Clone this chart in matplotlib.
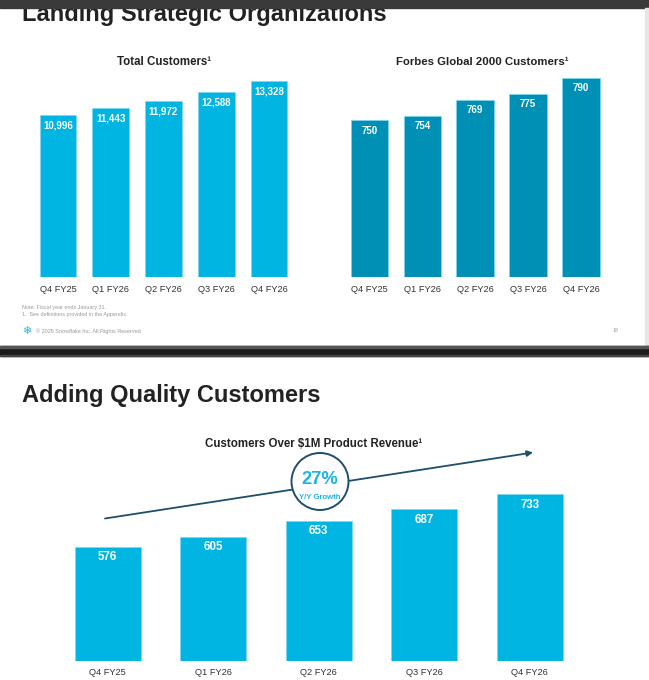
import matplotlib
matplotlib.use("Agg")
import matplotlib.pyplot as plt
from matplotlib.patches import Rectangle, Circle

plt.rcParams['font.family'] = ['Liberation Sans', 'DejaVu Sans']

# ---------------- data ----------------
quarters = ["Q4 FY25", "Q1 FY26", "Q2 FY26", "Q3 FY26", "Q4 FY26"]
total_customers = [10996, 11443, 11972, 12588, 13328]
forbes_customers = [750, 754, 769, 775, 790]
million_customers = [576, 605, 653, 687, 733]

W, H = 649, 680
fig = plt.figure(figsize=(W / 100, H / 100), dpi=100)
fig.patch.set_facecolor("white")

CYAN = "#00B5E2"
TEAL = "#0090B6"
NAVY = "#1D4E6E"
TXT = "#222222"


def px_axes(x0, x1, y_top, y_bot):
    return fig.add_axes([x0 / W, 1 - y_bot / H, (x1 - x0) / W, (y_bot - y_top) / H])


# overlay for slide decorations (pixel coordinates, y downward)
ov = fig.add_axes([0, 0, 1, 1])
ov.set_xlim(0, W)
ov.set_ylim(H, 0)
ov.axis("off")

# top slide title (partially hidden by the band)
ov.text(22, 21, "Landing Strategic Organizations", fontsize=17, fontweight="bold",
        color=TXT, va="baseline", ha="left", zorder=1)
ov.add_patch(Rectangle((0, 0), W, 8, color="#3a3a3a", zorder=5))
ov.add_patch(Rectangle((645, 8), 4, 338, color="#e6e6e6", zorder=5))

ov.text(164, 62, "Total Customers¹", fontsize=8.3, fontweight="bold", color=TXT,
        ha="center", va="center")
ov.text(482, 62, "Forbes Global 2000 Customers¹", fontsize=8.2, fontweight="bold",
        color=TXT, ha="center", va="center")

ov.text(22, 308, "Note: Fiscal year ends January 31.", fontsize=3.9, color="#9a9a9a",
        ha="left", va="center")
ov.text(22, 314.5, "1.  See definitions provided in the Appendix.", fontsize=3.9,
        color="#9a9a9a", ha="left", va="center")
ov.text(27, 331, "❄", fontsize=8, color="#29B5E8", ha="center", va="center",
        family="DejaVu Sans")
ov.text(36, 331, "© 2026 Snowflake Inc. All Rights Reserved", fontsize=3.95,
        color="#9a9a9a", ha="left", va="center")
ov.text(616, 331, "18", fontsize=3.9, color="#9a9a9a", ha="center", va="center")

# separator band between slides
ov.add_patch(Rectangle((0, 346), W, 10, color="#1c1c1c", zorder=5))
ov.add_patch(Rectangle((0, 346), W, 1.5, color="#555555", zorder=6))
ov.add_patch(Rectangle((0, 354.5), W, 1.5, color="#444444", zorder=6))

# bottom slide
ov.text(22, 402, "Adding Quality Customers", fontsize=17, fontweight="bold",
        color=TXT, va="baseline", ha="left")
ov.text(314, 444, "Customers Over $1M Product Revenue¹", fontsize=8.3,
        fontweight="bold", color=TXT, ha="center", va="center")

ov.annotate("", xy=(533, 452.5), xytext=(105, 518.5),
            arrowprops=dict(arrowstyle="-|>", color=NAVY, lw=1.3,
                            mutation_scale=8.5, shrinkA=0, shrinkB=0), zorder=2)
ov.add_patch(Circle((320, 481.5), 28.5, facecolor="white", edgecolor=NAVY,
                    lw=1.4, zorder=3))
ov.text(320, 479.5, "27%", fontsize=13.2, fontweight="bold", color="#1FB3E5",
        ha="center", va="center", zorder=4)
ov.text(320, 497.5, "Y/Y Growth", fontsize=5.6, fontweight="bold", color="#1FB3E5",
        ha="center", va="center", zorder=4)


def bar_panel(ax, values, color, y0, px_per_unit, height_px, width, fs_lab,
              lab_off_px, tick_fs, tick_pad):
    x = list(range(len(values)))
    ax.bar(x, values, width=width, color=color, edgecolor="#7fd6f0", linewidth=0.5)
    ax.set_xlim(-0.5, len(values) - 0.5)
    ax.set_ylim(y0, y0 + height_px / px_per_unit)
    for xi, v in zip(x, values):
        ax.annotate(f"{v:,}", (xi, v), xytext=(0, -lab_off_px * 0.72),
                    textcoords="offset points", ha="center", va="center",
                    color="white", fontweight="bold", fontsize=fs_lab)
    ax.set_xticks(x)
    ax.set_xticklabels(quarters, fontsize=tick_fs, color="#333333")
    ax.tick_params(axis="x", length=0, pad=tick_pad)
    ax.set_yticks([])
    for s in ax.spines.values():
        s.set_visible(False)
    ax.patch.set_alpha(0)


ax1 = px_axes(31.6, 295.4, 70, 277)
bar_panel(ax1, total_customers, CYAN, 0, 0.01473, 207, 0.70, 7.0, 10.5, 6.7, 5.6)

ax2 = px_axes(343, 607.5, 70, 277)
bar_panel(ax2, forbes_customers, TEAL, 602, 1.06, 207, 0.71, 7.0, 10.5, 6.7, 5.6)

ax3 = px_axes(54.85, 582.35, 480, 660.7)
bar_panel(ax3, million_customers, CYAN, 236.5, 0.3357, 180.7, 0.625, 8.3, 10.5, 6.7, 5.6)

fig.savefig("out.png", dpi=100, facecolor="white")
